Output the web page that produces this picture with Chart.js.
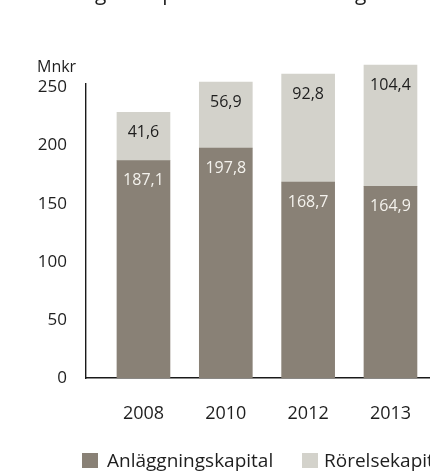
<!DOCTYPE html>
<html>
<head>
<meta charset="utf-8">
<script src="https://cdn.jsdelivr.net/npm/chart.js@4"></script>
<style>
html,body{margin:0;padding:0;background:#fff;overflow:hidden;width:430px;height:471px;}
#wrap{position:absolute;left:0;top:0;width:480px;height:471px;}
</style>
</head>
<body>
<div id="wrap"><canvas id="c" width="480" height="471"></canvas></div>
<script>
const years = ['2008', '2010', '2012', '2013'];
const anlaggningskapital = [187.1, 197.8, 168.7, 164.9];
const rorelsekapital = [41.6, 56.9, 92.8, 104.4];
const seriesNames = ['Anläggningskapital', 'Rörelsekapital'];
const yTicks = [0, 50, 100, 150, 200, 250];
const unitLabel = 'Mnkr';
const titleText = 'Fördelning av kapital och finansiering';

const DARK = '#898176';
const LIGHT = '#d3d2cb';
const INK = '#1e1e1e';
const FONT = '"Open Sans", "DejaVu Sans", sans-serif';

function fmt(v){ return v.toFixed(1).replace('.', ','); }

const extras = {
  id: 'extras',
  afterDatasetsDraw(chart){
    const ctx = chart.ctx;
    ctx.save();
    ctx.font = '16px ' + FONT;
    ctx.textAlign = 'center';
    ctx.textBaseline = 'middle';
    chart.data.datasets.forEach((ds, di) => {
      const meta = chart.getDatasetMeta(di);
      ctx.fillStyle = di === 0 ? '#f4f2ed' : INK;
      meta.data.forEach((el, i) => {
        ctx.fillText(fmt(ds.data[i].y), el.x, el.y + 20);
      });
    });
    ctx.restore();
  },
  afterDraw(chart){
    const ctx = chart.ctx;
    ctx.save();
    ctx.fillStyle = INK;
    ctx.textBaseline = 'alphabetic';
    ctx.font = '16px ' + FONT;
    ctx.textAlign = 'left';
    ctx.fillText(unitLabel, 37, 72);
    ctx.font = '21px ' + FONT;
    const pre = ctx.measureText('Fördelnin').width;
    ctx.fillText(titleText, 95 - pre, 0);
    const cols = [DARK, LIGHT];
    const boxX = [82, 302];
    const textX = [107, 324];
    ctx.font = '19px ' + FONT;
    seriesNames.forEach((n, i) => {
      ctx.fillStyle = cols[i];
      ctx.fillRect(boxX[i], 453, 16, 15);
      ctx.fillStyle = INK;
      ctx.fillText(n, textX[i], 467);
    });
    ctx.restore();
  }
};

function make(){
  new Chart(document.getElementById('c'), {
    type: 'bar',
    data: {
      datasets: [
        { label: seriesNames[0], data: anlaggningskapital.map((v, i) => ({x: i, y: v})), backgroundColor: DARK, barThickness: 53, clip: false },
        { label: seriesNames[1], data: rorelsekapital.map((v, i) => ({x: i, y: v})), backgroundColor: LIGHT, barThickness: 53, clip: false }
      ]
    },
    options: {
      responsive: false,
      animation: false,
      layout: { padding: { top: 84, left: 0, right: 2, bottom: 0 } },
      plugins: { legend: { display: false }, tooltip: { enabled: false } },
      scales: {
        x: {
          type: 'linear', stacked: true, min: -0.698, max: 4.063, offset: false,
          grid: { display: false, drawTicks: false, offset: false },
          border: { display: true, color: '#1a1a1a', width: 1.4 },
          afterBuildTicks(s){ s.ticks = years.map((y, i) => ({ value: i })); },
          afterFit(s){ s.height = 93; },
          ticks: { padding: 25, color: INK, font: { family: FONT, size: 18 }, callback: (v) => years[v] }
        },
        y: {
          type: 'linear', stacked: true, min: 0, max: 253,
          grid: { display: false, drawTicks: false },
          border: { display: true, color: '#1a1a1a', width: 1.4 },
          afterBuildTicks(s){ s.ticks = yTicks.map(v => ({ value: v })); },
          afterFit(s){ s.width = 86; },
          ticks: { padding: 19, color: INK, font: { family: FONT, size: 17 } }
        }
      }
    },
    plugins: [extras]
  });
}
if (document.fonts && document.fonts.load) {
  Promise.all([document.fonts.load('16px "Open Sans"')]).then(make, make);
} else { make(); }
</script>
</body>
</html>
